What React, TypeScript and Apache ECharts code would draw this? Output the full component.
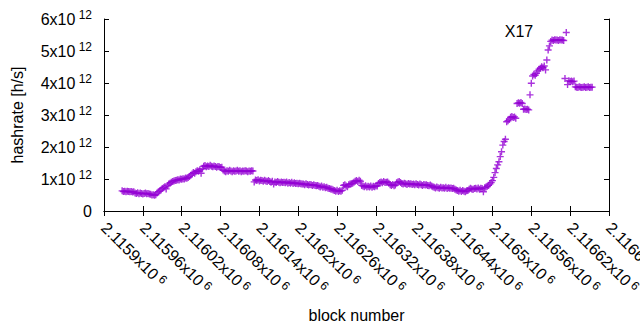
import React, { useEffect, useRef } from "react";
import * as echarts from "echarts";

// block number of the first sample, samples every 2 blocks
const firstBlock = 2115928;
const blockStep = 2;

// hashrate in units of 10^12 h/s, one value per sample
const hashrate = [
  0.63, 0.61, 0.62, 0.60, 0.62, 0.61, 0.60, 0.61, 0.59, 0.60,
  0.56, 0.55, 0.57, 0.54, 0.56, 0.55, 0.53, 0.55, 0.56, 0.54, 0.55, 0.53,
  0.52, 0.50, 0.51, 0.49, 0.51,
  0.56, 0.60, 0.63, 0.66, 0.70, 0.73, 0.76, 0.69, 0.80, 0.84,
  0.87, 0.90, 0.92, 0.94, 0.95, 0.96, 0.98, 0.97, 1.00, 0.99, 1.01, 1.00, 1.03, 1.02, 1.05, 1.08,
  1.12, 1.16, 1.20, 1.18, 1.23, 1.26, 1.24, 1.29, 1.18, 1.32,
  1.40, 1.42, 1.38, 1.41, 1.39, 1.43, 1.40, 1.38, 1.41, 1.39, 1.37, 1.39, 1.38, 1.36, 1.37,
  1.28, 1.25, 1.23, 1.26, 1.24, 1.27, 1.25, 1.23, 1.26, 1.24, 1.25, 1.27, 1.24, 1.26, 1.23, 1.25, 1.24, 1.26, 1.25, 1.23, 1.25, 1.24, 1.26, 1.25,
  0.91, 0.97, 0.95, 0.98, 0.94, 0.96, 0.95, 0.93, 0.96, 0.94, 0.92, 0.95,
  0.92, 0.90, 0.93, 0.84, 0.91, 0.89, 0.92, 0.90, 0.88, 0.91, 0.89, 0.90, 0.88, 0.91, 0.87, 0.89, 0.87, 0.90, 0.86, 0.88, 0.86, 0.87, 0.85, 0.87, 0.85, 0.84,
  0.84, 0.82, 0.85, 0.83, 0.81, 0.83, 0.82, 0.80, 0.82, 0.80, 0.79, 0.80,
  0.77, 0.75, 0.78, 0.74, 0.76, 0.73, 0.74, 0.71, 0.70, 0.69, 0.68, 0.66,
  0.64, 0.62, 0.65, 0.61, 0.63, 0.62, 0.65,
  0.80, 0.82, 0.78, 0.76, 0.82, 0.84, 0.85, 0.87,
  0.90, 0.93, 0.95, 0.92, 0.96, 0.93,
  0.80, 0.78, 0.76, 0.79, 0.75, 0.77, 0.75, 0.78, 0.74, 0.77, 0.76, 0.79, 0.78,
  0.86, 0.89, 0.91, 0.88, 0.92, 0.89, 0.90, 0.91, 0.87,
  0.82, 0.80, 0.83, 0.79, 0.81,
  0.88, 0.91, 0.92, 0.89,
  0.86, 0.84, 0.87, 0.85, 0.83, 0.86, 0.84, 0.85, 0.83, 0.84, 0.82, 0.85, 0.83, 0.81, 0.84, 0.82, 0.80, 0.83, 0.81, 0.82, 0.80, 0.79, 0.81, 0.78,
  0.76, 0.74, 0.72, 0.75, 0.73, 0.71, 0.74, 0.72, 0.73, 0.71, 0.74, 0.70, 0.73, 0.71, 0.72, 0.70, 0.71, 0.68,
  0.66, 0.64, 0.62, 0.65, 0.61, 0.64, 0.62, 0.60, 0.63, 0.64,
  0.68, 0.71, 0.69, 0.67, 0.70, 0.71, 0.69, 0.72, 0.68, 0.71, 0.70, 0.60,
  0.73, 0.75, 0.77, 0.80, 0.84, 0.89, 0.95,
  1.05, 1.20, 1.33, 1.44, 1.54, 1.70, 1.85, 2.06, 2.17, 2.24,
  2.79, 2.82, 2.87, 2.93, 2.95, 2.92, 2.94, 2.90,
  3.36, 3.38, 3.37, 3.39, 3.36,
  3.18, 3.19, 3.17, 3.18, 3.16,
  3.63, 3.99, 4.22, 4.27, 4.24, 4.30, 4.38, 4.43, 4.46, 4.51, 4.48, 4.53, 4.41,
  4.72, 5.03, 5.16, 5.30,
  5.34, 5.33, 5.35, 5.34, 5.34, 5.33, 5.35, 5.34, 5.34, 5.33,
  4.14, 5.58, 3.95,
  4.07, 4.05, 4.06, 4.04, 4.06,
  3.88, 3.87, 3.86, 3.88, 3.87, 3.86, 3.87, 3.88, 3.86, 3.87, 3.88, 3.86, 3.87, 3.87,
];

// axes
const xMin = 2115900;
const xMax = 2116680;
const xInterval = 60;
const xExponent = 6;
const yMin = 0;
const yMax = 6;
const yInterval = 1;
const yExponent = 12;

const xTitle = "block number";
const yTitle = "hashrate [h/s]";

const noteText = "X17";
const noteBlock = 2116519;
const noteValue = 5.6;

const purple = "#9400d3";
const font = "Liberation Sans, Arial, sans-serif";

export default function App() {
  const ref = useRef<HTMLDivElement>(null);
  useEffect(() => {
    document.body.style.margin = "0";
    if (!ref.current) return;
    const chart = echarts.init(ref.current, undefined, { renderer: "svg" });
    const data = hashrate.map((h, i) => [firstBlock + i * blockStep, h]);
    const fmtX = (v: number) =>
      `{b|${parseFloat((v / Math.pow(10, xExponent)).toFixed(6))}x10} {s|${xExponent}}`;
    const fmtY = (v: number) => (v === 0 ? "{b|0}" : `{b|${v}x10} {s|${yExponent}}`);
    const richY = {
      b: { fontSize: 16, fontFamily: font, color: "#000", lineHeight: 20 },
      s: { fontSize: 12, fontFamily: font, color: "#000", lineHeight: 15, verticalAlign: "top" },
    };
    const richX = {
      b: { fontSize: 16, fontFamily: font, color: "#000", lineHeight: 18 },
      s: { fontSize: 12, fontFamily: font, color: "#000", lineHeight: 15, verticalAlign: "top" },
    };
    const axisLine = { show: true, lineStyle: { color: "#000", width: 1 } };
    const axisTick = { show: true, inside: true, length: 5, lineStyle: { color: "#000", width: 1 } };
    chart.setOption({
      animation: false,
      textStyle: { fontFamily: font },
      grid: {
        left: 104,
        right: 31,
        top: 19,
        bottom: 119,
        containLabel: false,
        outerBoundsMode: "none",
      },
      xAxis: [
        {
          type: "value",
          min: xMin,
          max: xMax,
          interval: xInterval,
          position: "bottom",
          axisLine,
          axisTick,
          splitLine: { show: false },
          axisLabel: {
            rotate: -45,
            margin: 14,
            interval: 0,
            showMinLabel: true,
            showMaxLabel: true,
            hideOverlap: false,
            formatter: fmtX,
            rich: richX,
          },
          name: xTitle,
          nameLocation: "middle",
          nameGap: 96,
          nameTextStyle: { fontSize: 16, color: "#000", fontFamily: font },
        },
        {
          type: "value",
          min: xMin,
          max: xMax,
          interval: xInterval,
          position: "top",
          axisLine,
          axisTick,
          splitLine: { show: false },
          axisLabel: { show: false },
        },
      ],
      yAxis: [
        {
          type: "value",
          min: yMin,
          max: yMax,
          interval: yInterval,
          position: "left",
          axisLine,
          axisTick,
          splitLine: { show: false },
          axisLabel: { margin: 12, formatter: fmtY, rich: richY },
          name: yTitle,
          nameLocation: "middle",
          nameRotate: 90,
          nameGap: 79,
          nameTextStyle: { fontSize: 16, color: "#000", fontFamily: font },
        },
        {
          type: "value",
          min: yMin,
          max: yMax,
          interval: yInterval,
          position: "right",
          axisLine,
          axisTick,
          splitLine: { show: false },
          axisLabel: { show: false },
        },
      ],
      series: [
        {
          type: "scatter",
          data,
          symbol: "path://M4,0L4,8M0,4L8,4",
          symbolSize: 7,
          itemStyle: { color: "none", borderColor: purple, borderWidth: 1.4 },
          emphasis: { disabled: true },
          markPoint: {
            symbol: "circle",
            symbolSize: 0,
            data: [{ coord: [noteBlock, noteValue] }],
            label: {
              show: true,
              position: "right",
              distance: 0,
              formatter: noteText,
              color: "#000",
              fontSize: 16,
              fontFamily: font,
            },
          },
        },
      ],
    });
    return () => chart.dispose();
  }, []);
  return <div ref={ref} style={{ width: 640, height: 330 }} />;
}
